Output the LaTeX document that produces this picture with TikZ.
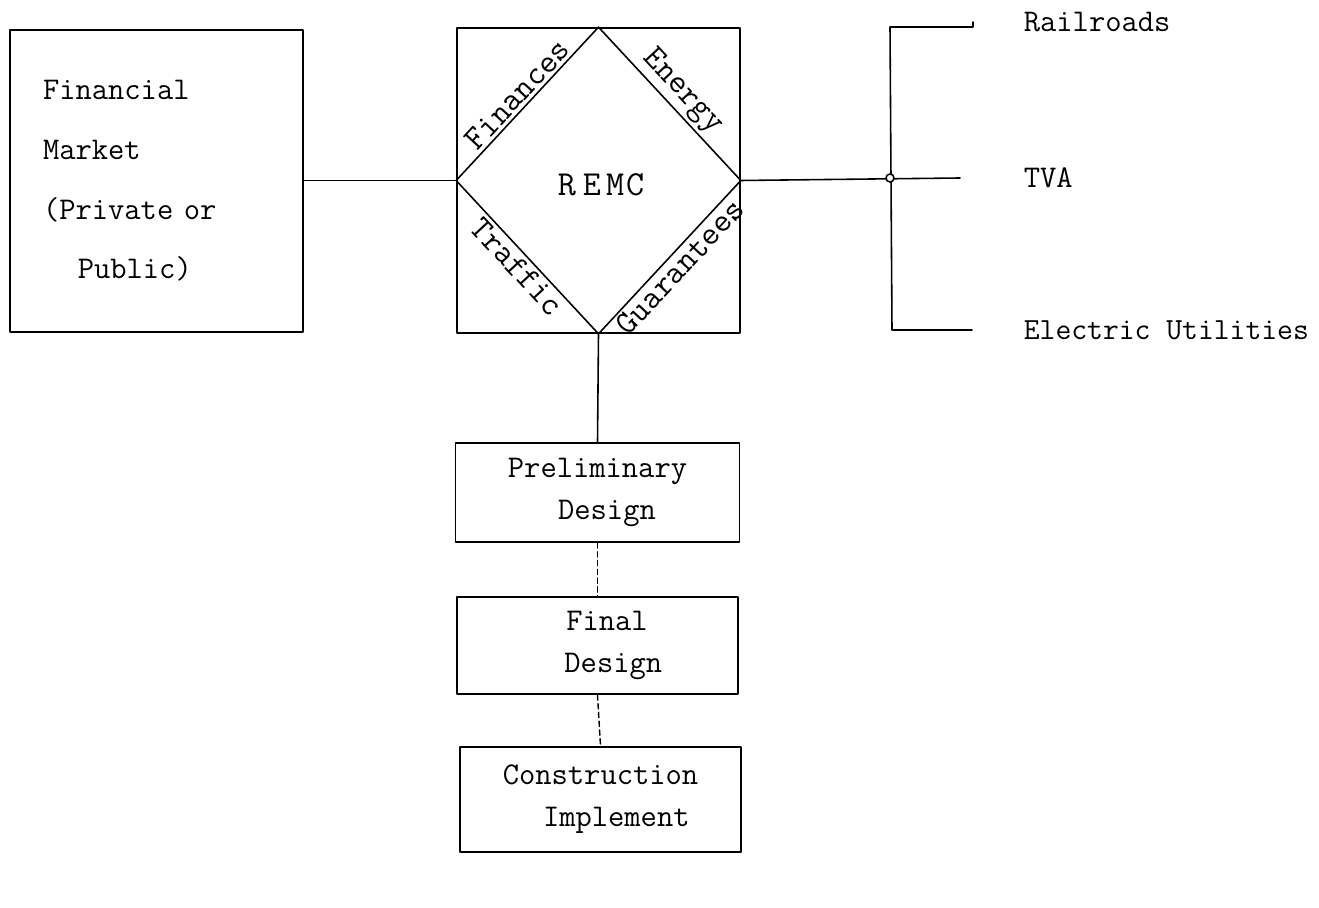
\documentclass[tikz,border=0pt]{standalone}
\usetikzlibrary{positioning}
\tikzset{
  box/.style={draw, line width=1pt, inner sep=0pt, font=\ttfamily\fontsize{18}{24}\selectfont, align=center},
  lbl/.style={font=\ttfamily\fontsize{18}{24}\selectfont, inner sep=2pt},
  side/.style={font=\ttfamily\fontsize{19}{24}\selectfont, inner sep=1.5pt},
  link/.style={line width=0.9pt},
  dlink/.style={line width=0.8pt, densely dashed}
}
\begin{document}
\begin{tikzpicture}[x=0.02cm, y=-0.02cm, line join=round, line cap=round]
  \useasboundingbox (0,0) rectangle (1319,908);

  % Boxes
  \node[box, minimum width=5.86cm, minimum height=6.04cm, align=left, text width=4.54cm,
        font=\ttfamily\fontsize{18}{34}\selectfont] (fin) at (156.5,181)
        {Financial\\Market\\(Private or\\\hspace*{1.1em}Public)};
  \node[box, minimum width=5.66cm, minimum height=6.10cm] (remc) at (598.5,180.5) {};
  \node[lbl, font=\ttfamily\fontsize{20}{24}\selectfont] (remctxt) at (601,185)
        {R\hspace{0.2em}E\hspace{0.15em}M\hspace{0.05em}C};
  \node[box, minimum width=5.68cm, minimum height=1.98cm] (prelim) at (597.5,492.5) {Preliminary\\\hspace*{0.6em}Design};
  \node[box, minimum width=5.62cm, minimum height=1.94cm] (final) at (597.5,645.5) {\hspace*{0.6em}Final\\\hspace*{1em}Design};
  \node[box, minimum width=5.62cm, minimum height=2.10cm] (constr) at (600.5,799.5) {Construction\\\hspace*{1em}Implement};

  % Diamond in REMC
  \draw[link] (remc.west) -- node[side, sloped, above] (lfin) {Finances} (remc.north)
              -- node[side, sloped, above] (lene) {Energy} (remc.east)
              -- node[side, sloped, below] (lgua) {Guarantees} (remc.south)
              -- node[side, sloped, below] (ltra) {Traffic} (remc.west);

  % Right side
  \coordinate (jn) at (890,178);
  \coordinate (rr) at (890,27);
  \coordinate (eu) at (892,330);
  \coordinate (rrend) at (973,27);
  \coordinate (rrtick) at (973,22);
  \coordinate (tvaend) at (960,178);
  \coordinate (euend) at (972,330);
  \node[lbl, anchor=west] (rail) at (1020,22) {Railroads};
  \node[lbl, anchor=west] (tva) at (1020,178) {TVA};
  \node[lbl, anchor=west, font=\ttfamily\fontsize{17.5}{24}\selectfont] (elec) at (1020,330) {Electric Utilities};

  % Connections
  \draw[link] (fin.east |- remc.west) -- (remc.west);
  \draw[link] (remc.east) -- (tvaend);
  \draw[link] (rrtick) -- (rrend) -- (rr) -- (eu) -- (euend);
  \draw[line width=0.9pt, fill=white] (jn) circle (4);
  \draw[link] (remc.south) -- (prelim.north);
  \draw[dlink] (prelim.south) -- (final.north);
  \draw[dlink] (final.south) -- (constr.north);
\end{tikzpicture}
\end{document}
